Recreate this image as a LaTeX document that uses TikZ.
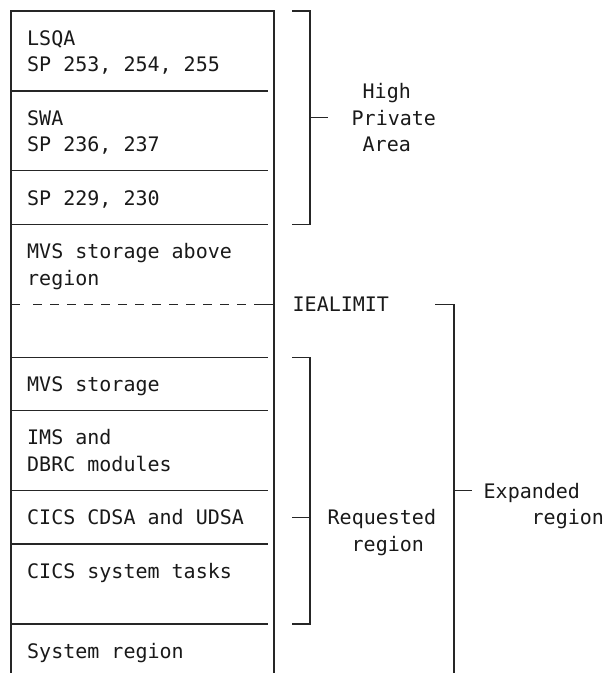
\documentclass[tikz,border=0pt]{standalone}
\usepackage{fontspec}
\setmonofont{DejaVu Sans Mono}
\begin{document}
\begin{tikzpicture}[x=1pt,y=-1pt,
  ln/.style={line width=1.1pt,draw=black!85},
  txt/.style={inner sep=0pt,anchor=base west,font=\fontsize{20}{24}\selectfont\ttfamily,text=black!90}]
\useasboundingbox (0,0) rectangle (603,673);
% main column
\draw[ln] (11,673) -- (11,11) -- (274,11) -- (274,673);
\foreach \y in {90.95,170.9,224.2,357.45,410.75,490.7,544,623.95}
  \draw[ln] (11,\y) -- (268,\y);
% dashed IEALIMIT line
\draw[ln] (11,304.15) -- (20,304.15);
\draw[ln,dash pattern=on 9pt off 8pt] (33,304.15) -- (246,304.15);
\draw[ln] (254,304.15) -- (274,304.15);
% texts in column
\node[txt] (lsqa) at (27,45.15) {LSQA};
\node[txt] (sp1) at (27,71.8) {SP 253, 254, 255};
\node[txt] (swa) at (27,125.1) {SWA};
\node[txt] (sp2) at (27,151.75) {SP 236, 237};
\node[txt] (sp3) at (27,205.05) {SP 229, 230};
\node[txt] (mvsa) at (27,258.35) {MVS storage above};
\node[txt] (mvsb) at (27,285) {region};
\node[txt] (mvs) at (27,391.6) {MVS storage};
\node[txt] (ims) at (27,444.9) {IMS and};
\node[txt] (dbrc) at (27,471.55) {DBRC modules};
\node[txt] (cdsa) at (27,524.85) {CICS CDSA and UDSA};
\node[txt] (tasks) at (27,578.15) {CICS system tasks};
\node[txt] (sysr) at (27,658.1) {System region};
% High Private Area bracket
\draw[ln] (292,11) -- (310,11) -- (310,224.2) -- (292,224.2);
\draw[ln] (310,117.6) -- (328,117.6);
\node[txt] (high) at (362.5,98.45) {High};
\node[txt] (priv) at (351.5,125.1) {Private};
\node[txt] (area) at (362.5,151.75) {Area};
% IEALIMIT
\node[txt] (iea) at (292.5,311.65) {IEALIMIT};
% Requested region bracket
\draw[ln] (292,357.45) -- (310,357.45) -- (310,623.95) -- (292,623.95);
\draw[ln] (292,517.35) -- (310,517.35);
\node[txt] (req) at (327.5,524.85) {Requested};
\node[txt] (reqr) at (351.5,551.5) {region};
% Expanded region bracket
\draw[ln] (435,304.15) -- (454,304.15) -- (454,673);
\draw[ln] (454,490.7) -- (472,490.7);
\node[txt] (exp) at (483.5,498.2) {Expanded};
\node[txt] (expr) at (531.5,524.85) {region};
\end{tikzpicture}
\end{document}
